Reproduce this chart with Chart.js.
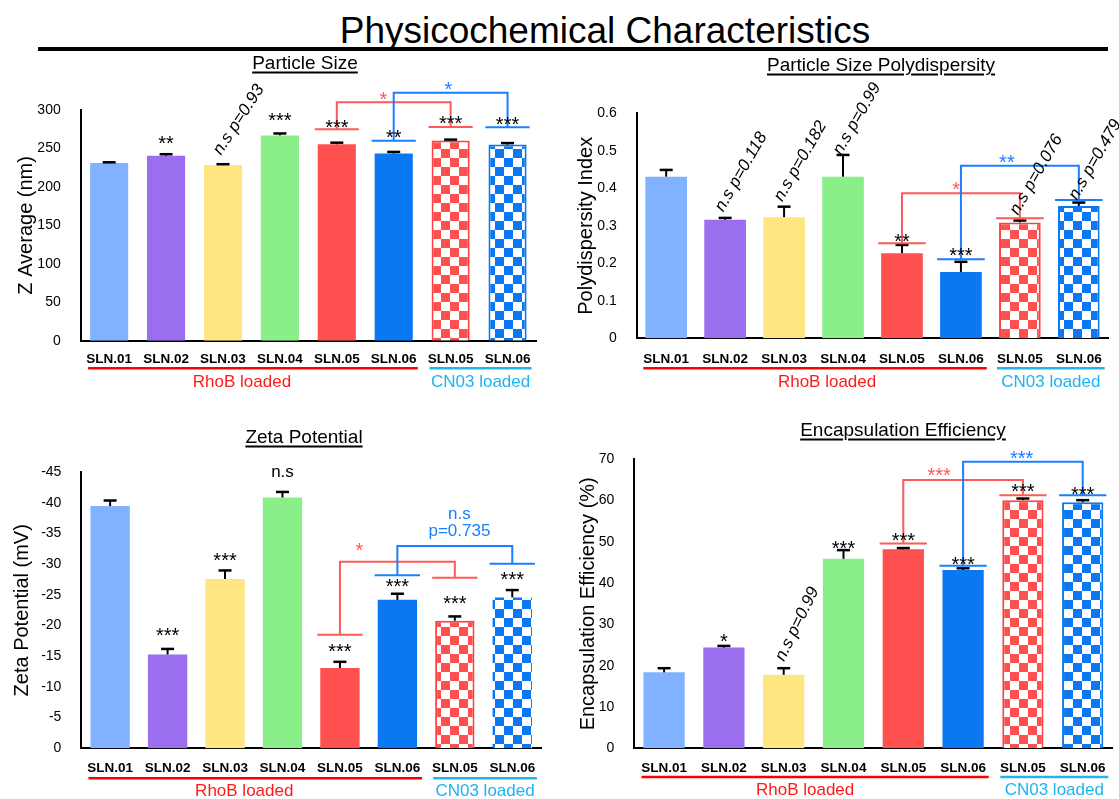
<!DOCTYPE html>
<html>
<head>
<meta charset="utf-8">
<script src="https://cdn.jsdelivr.net/npm/chart.js@4.4.1/dist/chart.umd.min.js"></script>
<style>
  body { margin: 0; background: #fff; font-family: "Liberation Sans", Arial, sans-serif; }
  #page { position: relative; width: 1119px; height: 799px; overflow: hidden; }
  canvas { position: absolute; }
  #main { position: absolute; left: 605px; top: 12px; transform: translateX(-50%); font-size: 37px; line-height: 37px; white-space: nowrap; color: #000; }
  #rule { position: absolute; left: 38px; top: 47px; width: 1070px; height: 4px; background: #000; }
  .ptitle { position: absolute; transform: translate(-50%, -50%); font-size: 19px; line-height: 19px; white-space: nowrap;
            text-decoration: underline; text-underline-offset: 3px; text-decoration-thickness: 1.5px; z-index: 2; }
</style>
</head>
<body>
<div id="page">
  <div id="main">Physicochemical Characteristics</div>
  <div id="rule"></div>
  <canvas id="cSize" width="560" height="350" style="left:0;top:50px"></canvas>
  <canvas id="cPdi" width="559" height="350" style="left:560px;top:50px"></canvas>
  <canvas id="cZeta" width="560" height="379" style="left:0;top:420px"></canvas>
  <canvas id="cEe" width="559" height="379" style="left:560px;top:420px"></canvas>
  <div class="ptitle" style="left:305px;top:62px">Particle Size</div>
  <div class="ptitle" style="left:881px;top:64px">Particle Size Polydispersity</div>
  <div class="ptitle" style="left:304px;top:436px">Zeta Potential</div>
  <div class="ptitle" style="left:903px;top:429px">Encapsulation Efficiency</div>
</div>
<script>
// -------- datos ----------
const categories = ["SLN.01", "SLN.02", "SLN.03", "SLN.04", "SLN.05", "SLN.06", "SLN.05", "SLN.06"];
const groupNames = ["RhoB loaded", "CN03 loaded"];
const groupFirst = [0, 6];
const groupLast  = [5, 7];

const sizeMean = [231, 240.5, 228.5, 267, 255.5, 243.5, 260.5, 255];
const sizeErr  = [1, 2, 1, 2.5, 2, 2, 1, 2];
const sizeStars = [[1, 263, "**"], [3, 292.6, "***"], [4, 284, "***"], [5, 271, "**"], [6, 288.7, "***"], [7, 288, "***"]];
const sizeTilted = [[2, 243.7, "n.s p=0.93"]];
const sizeBrackets = [
  { from: 4, to: 6, start: 275, top: 310, end: 278, text: ["*"], at: 319.5, side: 0, t: 0.41 },
  { from: 5, to: 7, start: 260, top: 322.5, end: 277.5, text: ["*"], at: 332.5, side: 1, t: 0.48 }
];

const pdiMean = [0.431, 0.316, 0.323, 0.431, 0.227, 0.177, 0.309, 0.353];
const pdiErr  = [0.018, 0.005, 0.028, 0.058, 0.022, 0.027, 0.005, 0.009];
const pdiStars = [[4, 0.271, "**"], [5, 0.233, "***"]];
const pdiTilted = [[1, 0.342, "n.s p=0.118"], [2, 0.369, "n.s p=0.182"], [3, 0.493, "n.s p=0.99"],
                   [6, 0.333, "n.s p=0.076"], [7, 0.373, "n.s p=0.479"]];
const pdiBrackets = [
  { from: 4, to: 6, start: 0.2533, top: 0.3867, end: 0.32, text: ["*"], at: 0.4088, side: 0, t: 0.46 },
  { from: 5, to: 7, start: 0.2107, top: 0.4603, end: 0.3688, text: ["**"], at: 0.4827, side: 1, t: 0.39 }
];

const zetaMean = [-39.5, -15.3, -27.6, -40.9, -13.1, -24.2, -20.8, -24.6];
const zetaErr  = [0.9, 0.9, 1.4, 0.9, 1.0, 1.0, 0.7, 1.2];
const zetaStars = [[1, -19.2, "***"], [2, -31.4, "***"], [3, -45, "n.s"], [4, -16.6, "***"],
                   [5, -27.2, "***"], [6, -24.4, "***"], [7, -28.4, "***"]];
const zetaTilted = [];
const zetaBrackets = [
  { from: 4, to: 6, start: -18.5, top: -30.4, end: -27.8, text: ["*"], at: -33, side: 0, t: 0.17 },
  { from: 5, to: 7, start: -28.2, top: -33, end: -30.1, text: ["n.s", "p=0.735"], at: -35.3, side: 1, t: 0.54 }
];

const eeMean = [18.4, 24.4, 17.8, 45.9, 48.2, 43.2, 60.1, 59.6];
const eeErr  = [1.0, 0.4, 1.6, 2.1, 0.3, 0.4, 0.4, 0.5];
const eeStars = [[1, 27, "*"], [3, 49.5, "***"], [4, 51.5, "***"], [5, 45.8, "***"], [6, 63.4, "***"], [7, 62.7, "***"]];
const eeTilted = [[2, 21.4, "n.s p=0.99"]];
const eeBrackets = [
  { from: 4, to: 6, start: 49.6, top: 65, end: 61.3, text: ["***"], at: 67.2, side: 0, t: 0.3 },
  { from: 5, to: 7, start: 44.2, top: 69.4, end: 61.3, text: ["***"], at: 71.4, side: 1, t: 0.49 }
];

// -------- estilos ----------
const FONT = '"Liberation Sans", Arial, sans-serif';
const solid = ["#80b2ff", "#9b6ef0", "#ffe680", "#8aef88", "#ff5050", "#0a78f0"];
const bracketColor = ["#ff5a5a", "#1a7fff"];
const groupLineColor = ["#ff0000", "#22b4f0"];
const groupTextColor = ["#ff1a1a", "#1cb4f0"];

function checker(color) {
  const c = document.createElement("canvas");
  c.width = c.height = 18;
  const g = c.getContext("2d");
  g.fillStyle = "#fff"; g.fillRect(0, 0, 18, 18);
  g.fillStyle = color; g.fillRect(0, 0, 9, 9); g.fillRect(9, 9, 9, 9);
  return g.createPattern(c, "repeat");
}
const fills = [...solid, checker("#ff5050"), checker("#0a78f0")];
const edges = [...solid, "#ff4040", "#0a78f0"];

// -------- plugin: barras de error, asteriscos, corchetes, grupos ----------
const marks = {
  id: "marks",
  afterDatasetsDraw(chart, args, o) {
    const ctx = chart.ctx, xs = chart.scales.x, ys = chart.scales.y;
    const bw = chart.getDatasetMeta(0).data[0].width;
    const cx = (i) => xs.getPixelForValue(i);
    const py = (v) => ys.getPixelForValue(v);
    ctx.save();

    // error bars (solo hacia arriba)
    ctx.strokeStyle = "#000";
    o.mean.forEach((v, i) => {
      const a = py(v), b = py(v + Math.sign(v) * o.err[i]);
      ctx.lineWidth = 2;
      ctx.beginPath(); ctx.moveTo(cx(i), a); ctx.lineTo(cx(i), b); ctx.stroke();
      ctx.lineWidth = 2.5;
      ctx.beginPath(); ctx.moveTo(cx(i) - 6.5, b); ctx.lineTo(cx(i) + 6.5, b); ctx.stroke();
    });

    const label = (s, x, y, color) => {
      ctx.fillStyle = color;
      ctx.textAlign = "center";
      if (/^\*+$/.test(s)) {
        ctx.font = `20px ${FONT}`;
        ctx.textBaseline = "alphabetic";
        ctx.fillText(s, x, y + 11.4);
      } else {
        ctx.font = `17px ${FONT}`;
        ctx.textBaseline = "middle";
        ctx.fillText(s, x, y);
      }
    };

    // corchetes de comparación
    o.brackets.forEach((b) => {
      const x1 = cx(b.from), x2 = cx(b.to), seg = bw / 2 + 3;
      ctx.strokeStyle = bracketColor[b.side];
      ctx.lineWidth = 2;
      ctx.beginPath();
      ctx.moveTo(x1 - seg, py(b.start)); ctx.lineTo(x1 + seg, py(b.start));
      ctx.moveTo(x1, py(b.start)); ctx.lineTo(x1, py(b.top)); ctx.lineTo(x2, py(b.top)); ctx.lineTo(x2, py(b.end));
      ctx.moveTo(x2 - seg, py(b.end)); ctx.lineTo(x2 + seg, py(b.end));
      ctx.stroke();
      const lx = x1 + b.t * (x2 - x1);
      b.text.forEach((s, k) => label(s, lx, py(b.at) - (b.text.length - 1 - k) * 17, bracketColor[b.side]));
    });

    // asteriscos sobre barras
    o.stars.forEach(([i, v, s]) => label(s, cx(i), py(v), "#000"));

    // textos inclinados n.s p=...
    ctx.font = `italic 17px ${FONT}`;
    ctx.fillStyle = "#000";
    ctx.textAlign = "left";
    ctx.textBaseline = "middle";
    o.tilted.forEach(([i, v, s]) => {
      ctx.save();
      ctx.translate(cx(i) + o.tiltDx, py(v));
      ctx.rotate(-o.tilt * Math.PI / 180);
      ctx.fillText(s, 0, 0);
      ctx.restore();
    });

    // grupos bajo el eje
    const base = chart.chartArea.bottom;
    groupFirst.forEach((f, g) => {
      const a = cx(f) - bw / 2 - 2, b = cx(groupLast[g]) + bw / 2 + 5;
      ctx.strokeStyle = groupLineColor[g];
      ctx.lineWidth = 2.5;
      ctx.beginPath(); ctx.moveTo(a, base + o.lineDy); ctx.lineTo(b, base + o.lineDy); ctx.stroke();
      ctx.fillStyle = groupTextColor[g];
      ctx.font = `17px ${FONT}`;
      ctx.textAlign = "center";
      ctx.textBaseline = "middle";
      ctx.fillText(groupNames[g], (a + b) / 2 + o.textDx[g], base + o.textDy);
    });
    ctx.restore();
  }
};

function build(id, p) {
  return new Chart(document.getElementById(id), {
    type: "bar",
    data: {
      labels: categories,
      datasets: [{
        data: p.mean,
        backgroundColor: fills,
        borderColor: edges,
        borderWidth: p.edge,
        barPercentage: p.bar,
        categoryPercentage: 1
      }]
    },
    options: {
      responsive: false,
      animation: false,
      devicePixelRatio: 1,
      layout: { padding: p.pad },
      plugins: {
        legend: { display: false },
        tooltip: { enabled: false },
        marks: {
          mean: p.mean, err: p.err, stars: p.stars, tilted: p.tilted, brackets: p.brackets,
          tilt: p.tilt, tiltDx: p.tiltDx, lineDy: p.lineDy, textDy: p.textDy, textDx: p.textDx
        }
      },
      scales: {
        x: {
          grid: { display: false },
          border: { color: "#000", width: 2 },
          ticks: { color: "#000", padding: p.xPad, maxRotation: 0, autoSkip: false,
                   font: { family: FONT, size: 13.5, weight: "bold" } },
          afterFit: (s) => { s.height = 30; }
        },
        y: {
          min: p.min, max: p.max, reverse: p.reverse,
          grid: { display: false },
          border: { color: "#000", width: 2 },
          ticks: { stepSize: p.step, color: "#000", padding: 12, font: { family: FONT, size: 14 } },
          title: { display: true, text: p.title, color: "#000",
                   font: { family: FONT, size: 20 }, padding: { top: p.titlePad, bottom: 0 } },
          afterFit: (s) => { s.width = p.yw; }
        }
      }
    },
    plugins: [marks]
  });
}

build("cSize", {
  mean: sizeMean, err: sizeErr, stars: sizeStars, tilted: sizeTilted, brackets: sizeBrackets,
  min: 0, max: 300, step: 50, reverse: false, title: "Z Average (nm)",
  yw: 80.7, pad: { left: 0, top: 60, right: 24, bottom: 29.3 }, xPad: 2.5, titlePad: 14.8, bar: 0.67,
  tilt: 57, tiltDx: -6, lineDy: 27.6, textDy: 41.6, textDx: [-11, 0], edge: [0, 0, 0, 0, 0, 0, 2, 2]
});
build("cPdi", {
  mean: pdiMean, err: pdiErr, stars: pdiStars, tilted: pdiTilted, brackets: pdiBrackets,
  min: 0, max: 0.6, step: 0.1, reverse: false, title: "Polydispersity Index",
  yw: 76.7, pad: { left: 0, top: 63.3, right: 10.7, bottom: 31.7 }, xPad: 4.9, titlePad: 14.8, bar: 0.707,
  tilt: 60, tiltDx: -6, lineDy: 30, textDy: 44, textDx: [12, 0], edge: [0, 0, 0, 0, 0, 0, 2, 2]
});
build("cZeta", {
  mean: zetaMean, err: zetaErr, stars: zetaStars, tilted: zetaTilted, brackets: zetaBrackets,
  min: -45, max: 0, step: 5, reverse: true, title: "Zeta Potential (mV)",
  yw: 81.4, pad: { left: 0, top: 52.3, right: 19, bottom: 20.7 }, xPad: 4.3, titlePad: 10.1, bar: 0.685,
  tilt: 60, tiltDx: -6, lineDy: 30, textDy: 43.4, textDx: [-11, 0], edge: [0, 0, 0, 0, 0, 0, 2, 0]
});
build("cEe", {
  mean: eeMean, err: eeErr, stars: eeStars, tilted: eeTilted, brackets: eeBrackets,
  min: 0, max: 70, step: 10, reverse: false, title: "Encapsulation Efficiency (%)",
  yw: 74.2, pad: { left: 0, top: 39.3, right: 6.4, bottom: 20.7 }, xPad: 3.6, titlePad: 16.5, bar: 0.69,
  tilt: 64, tiltDx: -4, lineDy: 28.7, textDy: 41.7, textDx: [-10, 0], edge: [0, 0, 0, 0, 0, 0, 2, 2]
});
</script>
</body>
</html>
